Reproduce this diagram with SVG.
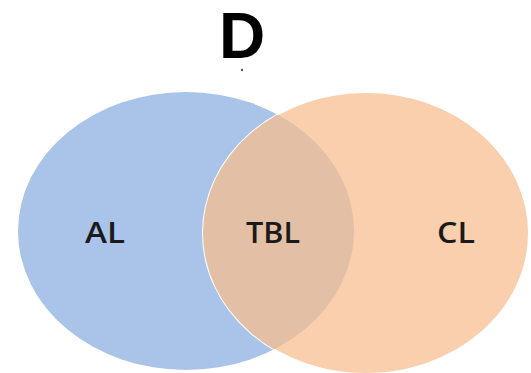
<svg xmlns="http://www.w3.org/2000/svg" width="531" height="373" viewBox="0 0 531 373">
<style>
.lbl{font-family:"Open Sans","Liberation Sans",sans-serif;font-size:28px;font-weight:600;fill:#1a1a1a;text-anchor:middle}
.title{font-family:"Liberation Sans",Arial,sans-serif;font-size:64px;font-weight:700;fill:#000;text-anchor:middle}
</style>
<defs>
<clipPath id="blueClip"><ellipse cx="186" cy="231" rx="168" ry="139"/></clipPath>
</defs>
<rect width="531" height="373" fill="#fff"/>
<g id="title"><text class="title" x="242" y="58">D</text><circle cx="242" cy="70" r="1.2" fill="#555"/></g>
<g id="AL">
<ellipse cx="186" cy="231" rx="168" ry="139" fill="#a9c4e8"/>
</g>
<g id="CL">
<ellipse cx="366" cy="233" rx="163" ry="141" fill="#f9cfae" stroke="#fff" stroke-width="2"/>
</g>
<g id="TBL">
<ellipse cx="366" cy="233" rx="163" ry="141" fill="#e2bfa5" clip-path="url(#blueClip)"/>
</g>
<g id="connectors"/>
<g id="labels">
<text class="lbl" x="105" y="243" textLength="40" lengthAdjust="spacingAndGlyphs">AL</text>
<text class="lbl" x="273" y="243" textLength="54" lengthAdjust="spacingAndGlyphs">TBL</text>
<text class="lbl" x="456" y="243" textLength="38" lengthAdjust="spacingAndGlyphs">CL</text>
</g>
</svg>
